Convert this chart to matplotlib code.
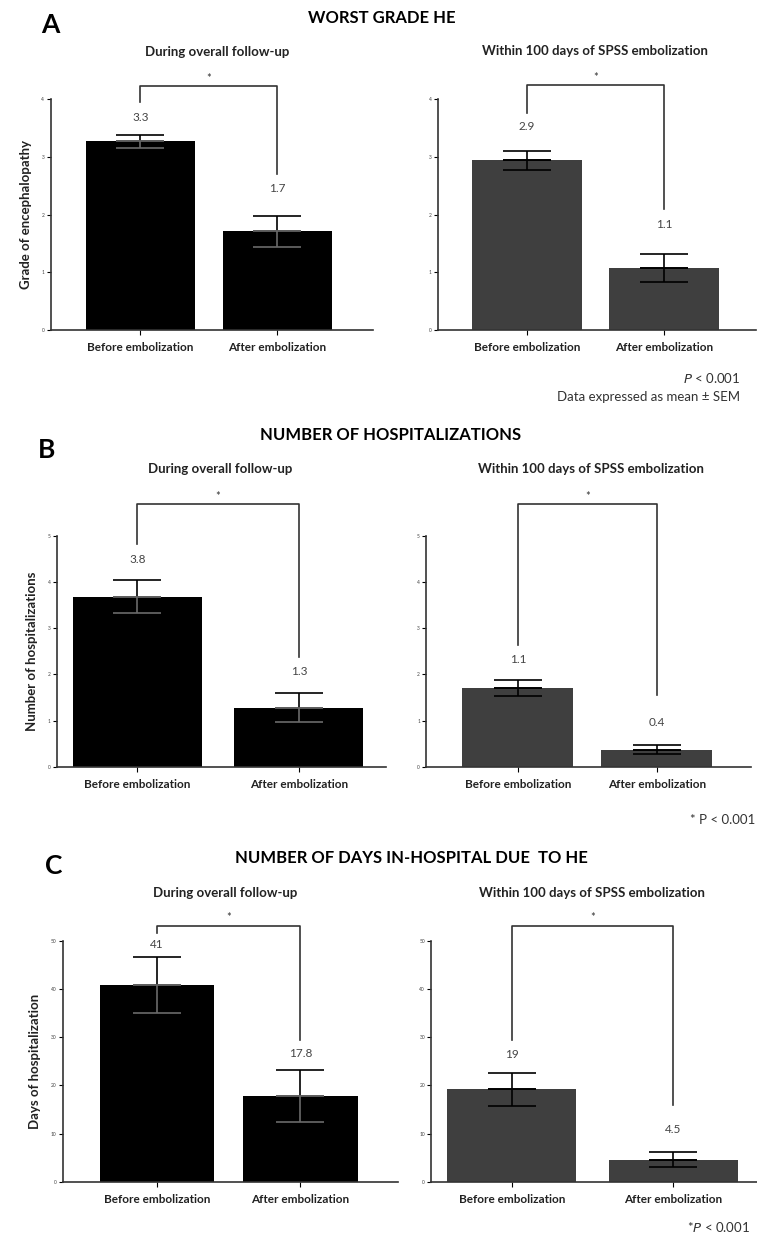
import matplotlib.pyplot as plt

plt.rcParams['font.family'] = ['Lato', 'DejaVu Sans']

W, H = 757, 1235

# ---------------- data
categories = ["Before embolization", "After embolization"]

grade_overall = [3.27, 1.71]
grade_overall_sem = [0.11, 0.27]
grade_overall_labels = ["3.3", "1.7"]
grade_100d = [2.94, 1.07]
grade_100d_sem = [0.17, 0.24]
grade_100d_labels = ["2.9", "1.1"]

hosp_overall = [3.68, 1.28]
hosp_overall_sem = [0.36, 0.32]
hosp_overall_labels = ["3.8", "1.3"]
hosp_100d = [1.70, 0.37]
hosp_100d_sem = [0.17, 0.10]
hosp_100d_labels = ["1.1", "0.4"]

days_overall = [40.9, 17.8]
days_overall_sem = [5.8, 5.5]
days_overall_labels = ["41", "17.8"]
days_100d = [19.2, 4.6]
days_100d_sem = [3.4, 1.6]
days_100d_labels = ["19", "4.5"]

grade_ticks = [0, 1, 2, 3, 4]
hosp_ticks = [0, 1, 2, 3, 4, 5]
days_ticks = [0, 10, 20, 30, 40, 50]

# ---------------- layout (pixels) and per-panel styling
panels = [
    dict(means=grade_overall, sem=grade_overall_sem, labels=grade_overall_labels,
         ticks=grade_ticks, rect=(50.5, 373, 330, 99.3), xlim=(-0.658, 1.70),
         color="black", inner="#6a6a6a", ylabel="Grade of encephalopathy",
         bracket=(4.23, 3.95, 2.71), star=4.36, label_y=(3.69, 2.46)),
    dict(means=grade_100d, sem=grade_100d_sem, labels=grade_100d_labels,
         ticks=grade_ticks, rect=(438, 756, 330, 99.3), xlim=(-0.65, 1.67),
         color="#3f3f3f", inner="black", ylabel=None,
         bracket=(4.25, 3.77, 2.09), star=4.38, label_y=(3.52, 1.83)),
    dict(means=hosp_overall, sem=hosp_overall_sem, labels=hosp_overall_labels,
         ticks=hosp_ticks, rect=(56.7, 386, 766.7, 535.7), xlim=(-0.50, 1.54),
         color="black", inner="#6a6a6a", ylabel="Number of hospitalizations",
         bracket=(5.69, 4.82, 2.38), star=5.84, label_y=(4.49, 2.06)),
    dict(means=hosp_100d, sem=hosp_100d_sem, labels=hosp_100d_labels,
         ticks=hosp_ticks, rect=(426.3, 751, 766.7, 535.7), xlim=(-0.66, 1.68),
         color="#3f3f3f", inner="black", ylabel=None,
         bracket=(5.69, 2.63, 1.55), star=5.84, label_y=(2.32, 0.96)),
    dict(means=days_overall, sem=days_overall_sem, labels=days_overall_labels,
         ticks=days_ticks, rect=(62.7, 398, 1181.7, 941), xlim=(-0.657, 1.68),
         color="black", inner="#6a6a6a", ylabel="Days of hospitalization",
         bracket=(53.2, 51.6, 29.4), star=54.9, label_y=(49.2, 26.7)),
    dict(means=days_100d, sem=days_100d_sem, labels=days_100d_labels,
         ticks=days_ticks, rect=(431.3, 757, 1181.7, 941), xlim=(-0.50, 1.52),
         color="#3f3f3f", inner="black", ylabel=None,
         bracket=(53.2, 29.4, 15.9), star=54.9, label_y=(26.5, 10.9)),
]


def fx(x):
    return x / W


def fy(y):
    return 1 - y / H


fig = plt.figure(figsize=(W / 100, H / 100), dpi=100)

for p in panels:
    left, right, bottom, top = p["rect"]
    ax = fig.add_axes([fx(left), fy(bottom), (right - left) / W, (bottom - top) / H])
    x = [0, 1]
    ax.bar(x, p["means"], width=0.8, color=p["color"], zorder=2)
    # error bar: upper half in black, lower half inside the bar
    ax.errorbar(x, p["means"], yerr=[[0, 0], p["sem"]], fmt="none", ecolor="black",
                elinewidth=1.2, capsize=17, capthick=1.2, zorder=3)
    ax.errorbar(x, p["means"], yerr=[p["sem"], [0, 0]], fmt="none", ecolor=p["inner"],
                elinewidth=1.2, capsize=17, capthick=1.2, zorder=3)

    ax.set_xlim(*p["xlim"])
    ax.set_ylim(0, p["ticks"][-1])
    ax.set_yticks(p["ticks"])
    ax.set_yticklabels([str(t) for t in p["ticks"]], fontsize=3.5, color="#444444")
    ax.set_xticks(x)
    ax.set_xticklabels(categories, fontsize=8.5, fontweight="bold", color="#222222")
    ax.tick_params(axis="y", direction="out", length=3, width=0.8, pad=1.5)
    ax.tick_params(axis="x", direction="out", length=3.5, width=0.8, pad=5)
    for s in ("top", "right"):
        ax.spines[s].set_visible(False)
    for s in ("left", "bottom"):
        ax.spines[s].set_linewidth(1.2)
        ax.spines[s].set_color("#333333")
    if p["ylabel"]:
        ax.set_ylabel(p["ylabel"], fontsize=9.5, fontweight="bold", color="#222222", labelpad=7)

    # value labels
    for xi, lab, ly in zip(x, p["labels"], p["label_y"]):
        ax.text(xi, ly, lab, ha="center", va="center", fontsize=8.5, color="#444444")

    # significance bracket
    btop, bl, br = p["bracket"]
    ax.plot([0, 0, 1, 1], [bl, btop, btop, br], color="#333333", lw=1.2,
            clip_on=False, zorder=4)
    ax.text(0.5, p["star"], "*", ha="center", va="center", fontsize=8, color="#333333")

# panel letters and titles
fig.text(fx(50), fy(25), "A", ha="center", va="center", fontsize=19, fontweight="bold")
fig.text(fx(382), fy(17.7), "WORST GRADE HE", ha="center", va="center",
         fontsize=12, fontweight="bold")
fig.text(fx(47), fy(450), "B", ha="center", va="center", fontsize=19, fontweight="bold")
fig.text(fx(391), fy(435), "NUMBER OF HOSPITALIZATIONS", ha="center", va="center",
         fontsize=12, fontweight="bold")
fig.text(fx(54), fy(866), "C", ha="center", va="center", fontsize=19, fontweight="bold")
fig.text(fx(411.5), fy(858.3), "NUMBER OF DAYS IN-HOSPITAL DUE  TO HE", ha="center",
         va="center", fontsize=12, fontweight="bold")

# subtitles
subtitles = [(216.7, 51.7, "During overall follow-up"),
             (594.7, 50.7, "Within 100 days of SPSS embolization"),
             (220, 469, "During overall follow-up"),
             (591.3, 469, "Within 100 days of SPSS embolization"),
             (225, 892.7, "During overall follow-up"),
             (592, 892.7, "Within 100 days of SPSS embolization")]
for sx, sy, st in subtitles:
    fig.text(fx(sx), fy(sy), st, ha="center", va="center", fontsize=9.5,
             fontweight="bold", color="#222222")

# footnotes
fig.text(fx(740), fy(378.3), r"$\it{P}$ < 0.001", ha="right", va="center",
         fontsize=9.5, color="#333333")
fig.text(fx(740), fy(396.7), "Data expressed as mean ± SEM", ha="right", va="center",
         fontsize=9.5, color="#333333")
fig.text(fx(755), fy(820), "* P < 0.001", ha="right", va="center",
         fontsize=9.5, color="#333333")
fig.text(fx(750), fy(1226.7), r"*$\it{P}$ < 0.001", ha="right", va="center",
         fontsize=9.5, color="#333333")

fig.savefig("out.png", dpi=100)
